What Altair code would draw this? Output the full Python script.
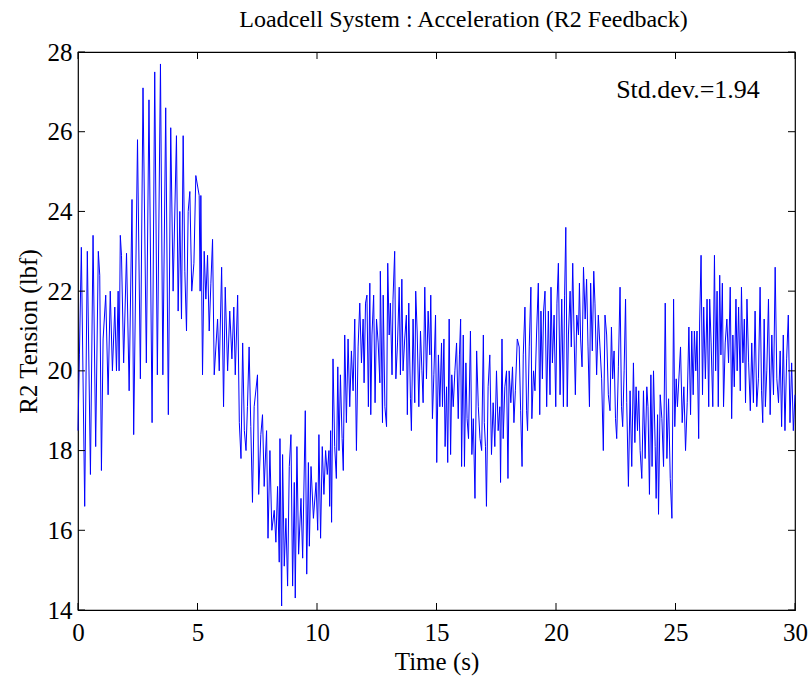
import altair as alt
import pandas as pd

# Time (s) and tension (lbf) readings, split into 5-second segments
t_0_5 = [0.00, 0.06, 0.14, 0.28, 0.39, 0.52, 0.63, 0.74, 0.85, 0.91, 0.98, 1.05, 1.16, 1.26, 1.35, 1.44,
         1.54, 1.61, 1.68, 1.72, 1.77, 1.82, 1.91, 2.03, 2.14, 2.26, 2.33, 2.49, 2.61, 2.72, 2.86, 2.97,
         3.10, 3.21, 3.32, 3.45, 3.55, 3.67, 3.78, 3.88, 3.98, 4.12, 4.19, 4.26, 4.33, 4.40, 4.47, 4.54,
         4.61, 4.68, 4.76, 4.85, 4.93]
v_0_5 = [18.5, 20.4, 23.1, 16.6, 23.0, 17.4, 23.4, 18.1, 23.0, 22.4, 17.5, 20.8, 21.9, 19.4, 22.0, 20.0,
         21.6, 20.0, 22.0, 20.0, 23.4, 22.9, 20.2, 22.95, 19.5, 24.3, 18.4, 25.8, 19.8, 27.1, 20.2, 26.8,
         18.7, 27.5, 19.9, 27.7, 19.9, 26.6, 18.9, 26.1, 22.0, 25.9, 21.5, 24.0, 21.3, 25.9, 22.5, 21.0,
         24.0, 24.5, 22.0, 22.7, 24.9]

t_5_10 = [5.07, 5.11, 5.14, 5.21, 5.28, 5.35, 5.42, 5.49, 5.56, 5.63, 5.70, 5.84, 5.91, 6.01, 6.09, 6.16,
          6.26, 6.35, 6.44, 6.52, 6.58, 6.68, 6.75, 6.82, 6.89, 6.96, 7.03, 7.09, 7.16, 7.23, 7.30, 7.37,
          7.51, 7.56, 7.65, 7.72, 7.79, 7.89, 7.95, 8.03, 8.11, 8.21, 8.28, 8.35, 8.42, 8.45, 8.52, 8.56,
          8.63, 8.70, 8.77, 8.84, 8.91, 8.98, 9.05, 9.09, 9.16, 9.23, 9.33, 9.40, 9.51, 9.57, 9.64, 9.68,
          9.75, 9.85, 9.96, 10.03]
v_5_10 = [24.4, 22.0, 24.4, 19.9, 23.0, 21.8, 22.9, 21.0, 22.2, 23.3, 19.9, 21.3, 20.0, 22.6, 19.1, 22.1,
          20.0, 21.5, 20.3, 21.6, 19.9, 21.9, 18.7, 17.8, 20.7, 18.5, 18.0, 19.1, 20.6, 18.6, 16.7, 19.1,
          19.9, 16.9, 18.4, 18.9, 17.1, 18.5, 15.8, 18.0, 16.0, 16.5, 15.7, 17.1, 15.2, 18.3, 14.1, 17.9,
          15.1, 16.3, 14.6, 17.6, 18.4, 14.6, 17.2, 14.3, 18.1, 15.4, 16.8, 15.3, 19.0, 14.9, 17.7, 15.6,
          17.6, 16.3, 17.2, 16.0]

t_10_15 = [10.08, 10.15, 10.22, 10.29, 10.36, 10.43, 10.50, 10.53, 10.57, 10.61, 10.67, 10.74, 10.81, 10.87,
           10.92, 10.98, 11.05, 11.10, 11.16, 11.23, 11.30, 11.37, 11.44, 11.51, 11.58, 11.65, 11.72, 11.79,
           11.86, 11.93, 11.97, 12.03, 12.09, 12.15, 12.21, 12.25, 12.30, 12.37, 12.43, 12.49, 12.56, 12.63,
           12.65, 12.74, 12.77, 12.84, 12.91, 12.96, 13.02, 13.07, 13.14, 13.18, 13.25, 13.30, 13.37, 13.44,
           13.49, 13.55, 13.60, 13.67, 13.74, 13.78, 13.84, 13.91, 13.95, 14.02, 14.09, 14.13, 14.19, 14.26,
           14.33, 14.39, 14.44, 14.51, 14.58, 14.65, 14.72, 14.76, 14.83, 14.89, 14.96, 15.01, 15.08, 15.14,
           15.21]
v_10_15 = [18.4, 15.8, 18.1, 16.9, 18.0, 17.4, 18.0, 16.6, 18.5, 16.2, 20.3, 18.1, 17.3, 20.1,
           18.0, 19.9, 18.3, 17.5, 20.9, 18.7, 20.8, 19.1, 20.5, 19.5, 21.3, 18.0, 20.6, 21.7,
           20.2, 21.3, 19.7, 21.7, 21.9, 19.1, 22.2, 18.9, 20.9, 21.9, 19.2, 21.3, 20.7, 19.7,
           22.5, 18.7, 21.9, 19.1, 18.6, 22.7, 20.9, 21.7, 19.9, 21.8, 23.0, 19.8, 20.7, 22.1,
           19.9, 22.3, 20.0, 20.8, 21.4, 18.9, 21.7, 19.3, 18.5, 21.3, 19.2, 22.0, 21.0, 19.1,
           21.0, 20.0, 19.2, 22.1, 19.8, 21.5, 20.4, 21.9, 18.8, 19.9, 21.4, 17.7, 20.4, 19.1,
           20.7]

t_15_20 = [15.25, 15.31, 15.36, 15.42, 15.47, 15.53, 15.59, 15.64, 15.70, 15.77, 15.84, 15.91, 15.96, 16.01,
           16.05, 16.12, 16.17, 16.23, 16.28, 16.34, 16.42, 16.48, 16.54, 16.61, 16.68, 16.75, 16.82, 16.89,
           16.96, 17.00, 17.05, 17.09, 17.16, 17.23, 17.30, 17.37, 17.44, 17.51, 17.58, 17.65, 17.68, 17.74,
           17.79, 17.86, 17.93, 17.99, 18.04, 18.11, 18.18, 18.24, 18.30, 18.38, 18.46, 18.52, 18.58, 18.63,
           18.70, 18.77, 18.81, 18.88, 18.95, 18.99, 19.06, 19.12, 19.19, 19.26, 19.32, 19.37, 19.43, 19.48,
           19.54, 19.61, 19.68, 19.75, 19.79, 19.85, 19.92, 19.99, 20.04, 20.10, 20.17, 20.24, 20.31, 20.36]
v_15_20 = [19.1, 20.8, 18.1, 19.6, 17.7, 21.3, 17.9, 19.9, 19.1, 20.0, 20.7, 18.8, 20.4, 21.3,
           17.6, 20.9, 17.6, 20.2, 18.8, 18.3, 21.0, 17.9, 18.8, 16.8, 20.5, 19.1, 18.3, 18.0,
           20.9, 18.7, 18.1, 16.6, 19.6, 20.4, 17.9, 19.2, 18.1, 20.0, 18.5, 19.1, 17.2, 20.8,
           18.3, 19.6, 20.0, 17.3, 20.0, 19.2, 20.1, 18.7, 19.5, 20.8, 20.6, 19.0, 17.6, 20.4,
           21.6, 19.0, 18.5, 20.6, 22.1, 18.8, 20.0, 19.5, 21.0, 22.2, 18.9, 21.5, 19.8, 21.5,
           22.0, 19.1, 21.5, 19.4, 22.1, 20.2, 21.4, 19.1, 21.7, 22.7, 19.4, 21.8, 19.1, 21.9]

t_20_25 = [20.41, 20.47, 20.52, 20.59, 20.64, 20.70, 20.75, 20.81, 20.87, 20.94, 20.98, 21.03, 21.09, 21.15,
           21.22, 21.28, 21.34, 21.40, 21.45, 21.52, 21.58, 21.63, 21.70, 21.77, 21.84, 21.91, 21.98, 22.05,
           22.12, 22.19, 22.26, 22.32, 22.37, 22.43, 22.49, 22.54, 22.61, 22.68, 22.74, 22.79, 22.85, 22.91,
           22.96, 23.03, 23.10, 23.17, 23.24, 23.30, 23.35, 23.41, 23.46, 23.52, 23.59, 23.66, 23.73, 23.80,
           23.85, 23.91, 23.97, 24.02, 24.08, 24.15, 24.19, 24.25, 24.29, 24.36, 24.43, 24.50, 24.57, 24.64,
           24.71, 24.78, 24.85, 24.92, 24.97, 25.03, 25.08]
v_20_25 = [23.6, 19.1, 20.9, 22.0, 20.6, 22.7, 21.1, 19.4, 21.4, 20.9, 22.2, 20.8, 20.1, 22.6,
           21.3, 22.3, 20.6, 19.1, 22.2, 20.5, 22.5, 21.7, 19.9, 21.4, 20.6, 19.8, 18.0, 21.4,
           20.9, 19.4, 19.0, 21.1, 19.8, 20.5, 18.8, 18.3, 20.1, 22.1, 19.1, 18.6, 20.0, 21.8,
           19.2, 17.1, 19.5, 17.6, 20.2, 18.2, 19.6, 18.5, 19.5, 18.0, 17.3, 19.5, 17.8, 19.6,
           19.1, 16.9, 19.9, 17.6, 20.0, 18.1, 16.8, 18.9, 16.4, 19.4, 18.8, 17.6, 21.7, 17.8,
           19.3, 17.3, 16.3, 21.8, 18.6, 19.8, 19.1]

t_25_30 = [25.21, 25.28, 25.35, 25.42, 25.49, 25.56, 25.63, 25.68, 25.74, 25.79, 25.85, 25.90, 25.97, 26.01,
           26.07, 26.13, 26.18, 26.25, 26.32, 26.39, 26.43, 26.49, 26.56, 26.63, 26.68, 26.74, 26.79, 26.85,
           26.90, 26.96, 27.01, 27.08, 27.15, 27.22, 27.29, 27.35, 27.40, 27.46, 27.53, 27.58, 27.64, 27.71,
           27.76, 27.82, 27.88, 27.93, 27.99, 28.06, 28.13, 28.19, 28.26, 28.33, 28.40, 28.47, 28.54, 28.60,
           28.65, 28.71, 28.76, 28.82, 28.89, 28.96, 29.03, 29.10, 29.17, 29.24, 29.31, 29.38, 29.44, 29.51,
           29.58, 29.65, 29.72, 29.79, 29.86, 29.93, 30.00]
v_25_30 = [20.6, 18.7, 19.6, 18.0, 19.2, 21.1, 18.9, 21.0, 19.4, 21.0, 20.0, 21.0, 18.3, 21.2,
           22.9, 19.4, 21.6, 19.8, 21.8, 19.1, 21.8, 20.7, 19.1, 22.9, 20.0, 22.0, 19.1, 22.4,
           20.4, 22.2, 19.1, 20.7, 21.3, 20.2, 22.1, 18.8, 20.9, 19.6, 21.8, 20.0, 21.6, 19.5,
           22.1, 20.2, 21.3, 19.2, 21.8, 20.2, 19.0, 20.7, 19.2, 21.5, 19.1, 19.8, 22.1, 19.5,
           18.7, 21.3, 19.1, 20.0, 21.8, 18.9, 20.9, 19.4, 22.6, 19.8, 19.2, 20.5, 18.6, 20.9,
           18.5, 20.3, 21.4, 18.7, 20.2, 18.5, 19.4]

x_ticks = [0, 5, 10, 15, 20, 25, 30]
y_ticks = [14, 16, 18, 20, 22, 24, 26, 28]

title_text = "Loadcell System : Acceleration (R2 Feedback)"
x_title = "Time (s)"
y_title = "R2 Tension (lbf)"
note_text = "Std.dev.=1.94"

times = t_0_5 + t_5_10 + t_10_15 + t_15_20 + t_20_25 + t_25_30
vals = v_0_5 + v_5_10 + v_10_15 + v_15_20 + v_20_25 + v_25_30
df = pd.DataFrame({"t": times, "v": vals, "i": range(len(times))})

W, H = 717, 558
FONT = "Liberation Serif"

xs = alt.Scale(domain=[0, 30], nice=False, zero=False)
ys = alt.Scale(domain=[14, 28], nice=False, zero=False)

line = alt.Chart(df).mark_line(color="#0000ff", strokeWidth=1).encode(
    x=alt.X("t:Q", scale=xs, title=x_title,
            axis=alt.Axis(values=x_ticks, grid=False, ticks=False, domain=False,
                          labelPadding=10, titlePadding=4, format="d", labelFlush=False,
                          labelFont=FONT, labelFontSize=25, labelColor="black",
                          titleFont=FONT, titleFontSize=25, titleFontWeight="normal",
                          titleColor="black")),
    y=alt.Y("v:Q", scale=ys, title=y_title,
            axis=alt.Axis(values=y_ticks, grid=False, ticks=False, domain=False,
                          labelPadding=6, titlePadding=6, format="d", labelFlush=False,
                          labelFont=FONT, labelFontSize=25, labelColor="black",
                          titleFont=FONT, titleFontSize=25, titleFontWeight="normal",
                          titleColor="black")),
    order="i:Q",
)

xt = pd.DataFrame({"t": x_ticks})
yt = pd.DataFrame({"v": y_ticks})
tick_len = 7

xtick_bot = alt.Chart(xt).mark_rule(color="black", strokeWidth=1).encode(
    x=alt.X("t:Q", scale=xs), y=alt.value(H), y2=alt.value(H - tick_len))
xtick_top = alt.Chart(xt).mark_rule(color="black", strokeWidth=1).encode(
    x=alt.X("t:Q", scale=xs), y=alt.value(0), y2=alt.value(tick_len))
ytick_left = alt.Chart(yt).mark_rule(color="black", strokeWidth=1).encode(
    y=alt.Y("v:Q", scale=ys), x=alt.value(0), x2=alt.value(tick_len))
ytick_right = alt.Chart(yt).mark_rule(color="black", strokeWidth=1).encode(
    y=alt.Y("v:Q", scale=ys), x=alt.value(W), x2=alt.value(W - tick_len))

note = alt.Chart(pd.DataFrame({"s": [note_text]})).mark_text(
    font=FONT, fontSize=26, color="black", align="center", baseline="middle"
).encode(text="s:N", x=alt.value(610), y=alt.value(38))

chart = alt.layer(line, xtick_bot, xtick_top, ytick_left, ytick_right, note).properties(
    width=W, height=H,
    background="white",
    title=alt.TitleParams(title_text, font=FONT, fontSize=24, fontWeight="normal",
                          color="black", offset=8, dx=27),
    autosize=alt.AutoSizeParams(type="none"),
    padding={"left": 78, "top": 52, "right": 17, "bottom": 71},
).configure_view(stroke="black", strokeWidth=1.2)

chart.save("out.html", embed_options={"renderer": "svg", "actions": False})
